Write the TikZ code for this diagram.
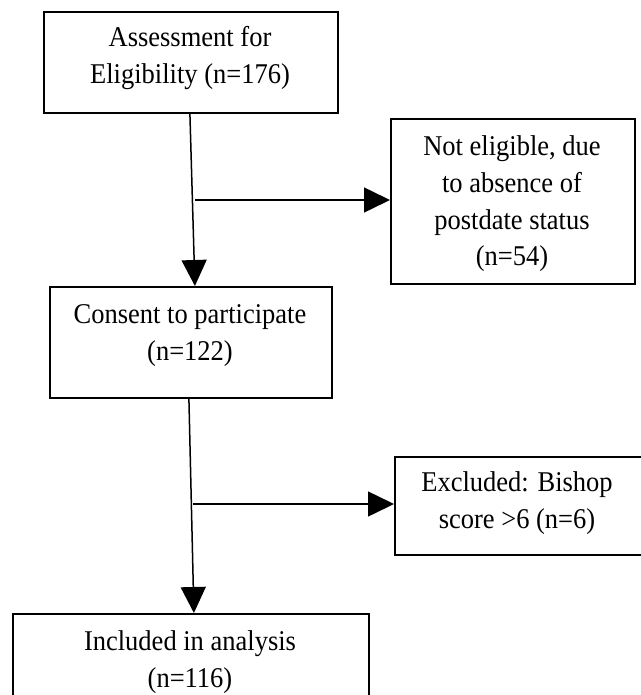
\documentclass[tikz,border=0pt]{standalone}
\usepackage{fontspec}
\setmainfont{Liberation Serif}
\usepackage{graphicx}
\usetikzlibrary{arrows.meta}
\begin{document}
\begin{tikzpicture}[x=1pt,y=-1pt]
\tikzset{
  boxnode/.style={draw=black, line width=1.8pt, inner sep=0pt, anchor=north west},
  txt/.style={inner sep=0pt, font=\fontsize{26.5}{34}\selectfont},
  conn/.style={line width=1.5pt, -{Triangle[length=26pt,width=25pt]}},
}
\useasboundingbox (0,0) rectangle (640,695);
% boxes
\node[boxnode, minimum width=294pt, minimum height=101pt] (b1) at (43,11) {};
\node[boxnode, minimum width=244pt, minimum height=165pt] (b2) at (390,118) {};
\node[boxnode, minimum width=282pt, minimum height=111pt] (b3) at (49,286) {};
\node[boxnode, minimum width=262pt, minimum height=98pt] (b4) at (394,456) {};
\node[boxnode, minimum width=356pt, minimum height=96pt] (b5) at (12,613) {};
% texts
\node[txt] (t1) at (190,58) {\scalebox{1}[1.08]{\begin{tabular}{@{}c@{}}Assessment for\\Eligibility (n=176)\end{tabular}}};
\node[txt] (t2) at (512,203.5) {\scalebox{1}[1.08]{\begin{tabular}{@{}c@{}}Not eligible, due\\to absence of\\postdate status\\(n=54)\end{tabular}}};
\node[txt] (t3) at (190,334.5) {\scalebox{1}[1.08]{\begin{tabular}{@{}c@{}}Consent to participate\\(n=122)\end{tabular}}};
\node[txt] (t4) at (517,502.5) {\scalebox{1}[1.08]{\begin{tabular}{@{}c@{}}Excluded: Bishop\\score {>}6 (n=6)\end{tabular}}};
\node[txt] (t5) at (190,662) {\scalebox{1}[1.08]{\begin{tabular}{@{}c@{}}Included in analysis\\(n=116)\end{tabular}}};
% connectors
\coordinate (h1) at (195,200);
\coordinate (h2) at (193,504);
\draw[conn] ([xshift=-1pt]b1.south) -- ([xshift=4pt]b3.north);
\draw[conn] (h1) -- (h1 -| b2.west);
\draw[conn] ([xshift=-2pt]b3.south) -- ([xshift=3pt]b5.north);
\draw[conn] (h2) -- (h2 -| b4.west);
\end{tikzpicture}
\end{document}
